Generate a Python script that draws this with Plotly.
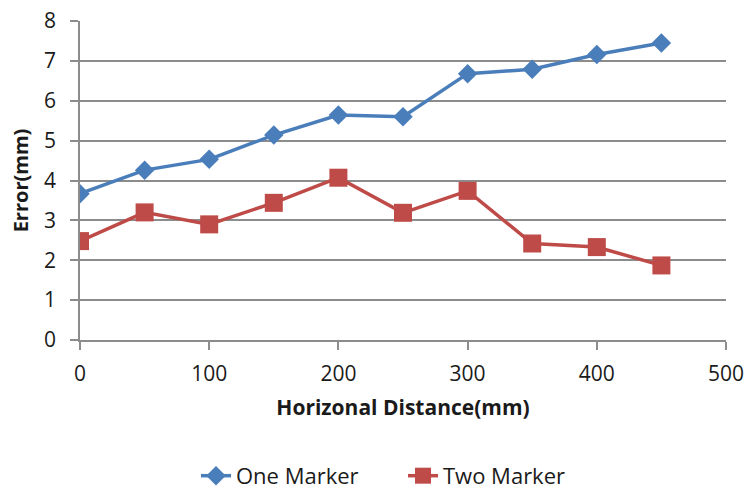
import plotly.graph_objects as go

distance = [0, 50, 100, 150, 200, 250, 300, 350, 400, 450]
one_marker = [3.67, 4.26, 4.53, 5.14, 5.64, 5.60, 6.68, 6.79, 7.16, 7.45]
two_marker = [2.48, 3.20, 2.90, 3.44, 4.07, 3.19, 3.74, 2.42, 2.33, 1.87]

FONT = "Open Sans, sans-serif"
GRID = "#8c8c8c"
TXT = "#1a1a1a"

fig = go.Figure()
fig.add_trace(go.Scatter(
    x=distance, y=one_marker, name="One Marker", mode="lines+markers",
    line=dict(color="#4a7ebb", width=3.5),
    marker=dict(symbol="diamond", size=15, color="#4a7ebb"),
))
fig.add_trace(go.Scatter(
    x=distance, y=two_marker, name="Two Marker", mode="lines+markers",
    line=dict(color="#be4b48", width=3.5),
    marker=dict(symbol="square", size=18, color="#be4b48"),
))

fig.update_layout(
    width=749, height=489,
    margin=dict(l=80, r=23, t=21, b=149, autoexpand=False),
    paper_bgcolor="white", plot_bgcolor="white",
    font=dict(family=FONT, size=21, color=TXT),
    showlegend=True,
    legend=dict(orientation="h", x=0.5, xanchor="center", y=-0.426, yanchor="middle",
                font=dict(size=22), entrywidth=162),
    xaxis=dict(
        range=[0, 500], tickvals=[0, 100, 200, 300, 400, 500],
        showgrid=False, showline=True, linecolor=GRID, linewidth=1.5,
        ticks="outside", ticklen=8, tickcolor=GRID, tickwidth=1.5,
        ticklabelstandoff=6,
        zeroline=False,
        title=dict(text="<b>Horizonal Distance(mm)</b>", font=dict(size=21), standoff=14),
    ),
    yaxis=dict(
        range=[0, 8], dtick=1,
        showgrid=True, gridcolor=GRID, gridwidth=1.5,
        showline=True, linecolor=GRID, linewidth=1.5,
        ticks="outside", ticklen=8, tickcolor=GRID, tickwidth=1.5,
        ticklabelstandoff=10,
        zeroline=False,
        title=dict(text="<b>Error(mm)</b>", font=dict(size=20), standoff=10),
    ),
)

fig.write_html("out.html")
